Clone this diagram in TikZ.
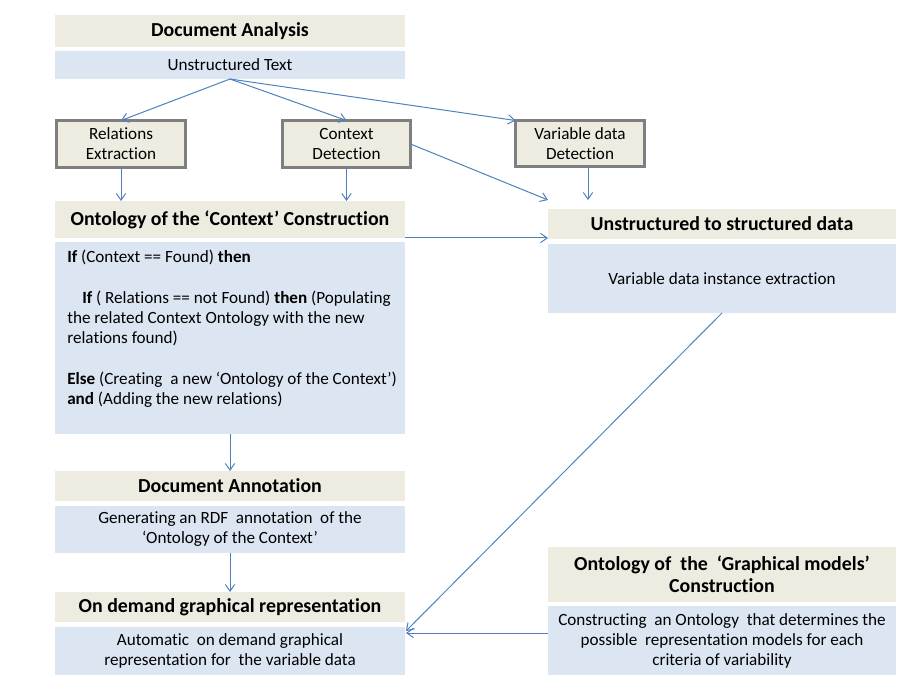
\documentclass[tikz,border=0pt]{standalone}
\usepackage{fontspec}
\setmainfont[Ligatures={TeX,NoCommon}]{Carlito}
\usetikzlibrary{arrows.meta}
\definecolor{hdrc}{HTML}{EEECE1}
\definecolor{bodc}{HTML}{DCE6F2}
\definecolor{arrc}{HTML}{4F81BD}
\definecolor{brdc}{HTML}{7F7F7F}
\tikzset{
  hdr/.style={fill=hdrc, anchor=north west, inner sep=0pt, outer sep=0pt, align=center,
    minimum width=262.5pt, font=\bfseries\fontsize{14.9}{16.5}\selectfont},
  bod/.style={fill=bodc, anchor=north west, inner sep=0pt, outer sep=0pt, align=center,
    minimum width=262.5pt, font=\fontsize{12.85}{15}\selectfont},
  wide/.style={minimum width=261pt},
  sbox/.style={fill=hdrc, draw=brdc, line width=2.25pt, anchor=north west, inner sep=0pt,
    outer sep=0pt, align=center, minimum height=35.25pt, font=\fontsize{12.85}{15}\selectfont},
  arr/.style={draw=arrc, line width=0.75pt, -{Straight Barb[length=5pt,width=7pt]}}
}
\begin{document}
\begin{tikzpicture}[x=0.75pt,y=-0.75pt]
\useasboundingbox (0,0) rectangle (915,684);
% left column
\node[hdr, minimum height=24pt] (dah) at (55,15) {Document Analysis};
\node[bod, minimum height=21pt] (dab) at (55,51) {Unstructured Text};
\node[sbox, minimum width=96.75pt] (rel) at (56.5,120.5) {Relations\\Extraction};
\node[sbox, minimum width=96pt] (ctx) at (282.5,120.5) {Context\\Detection};
\node[sbox, minimum width=96.75pt, minimum height=34.5pt] (var) at (515.5,120.5) {Variable data\\Detection};
\node[hdr, minimum height=27.75pt] (onth) at (55,201) {Ontology of the ‘Context’ Construction};
\node[bod, minimum height=144pt] (ontb) at (55,242) {};
\node[anchor=north west, inner sep=0pt, align=left, font=\fontsize{12.85}{15.2}\selectfont] (ontt) at (67,250)
 {\textbf{If} (Context == Found) \textbf{then}\\[15.2pt]
  \hspace*{11.25pt}\textbf{If} ( Relations == not Found) \textbf{then} (Populating\\
  the related Context Ontology with the new\\
  relations found)\\[15.2pt]
  \textbf{Else} (Creating\ \ a new ‘Ontology of the Context’)\\
  \textbf{and} (Adding the new relations)};
\node[hdr, minimum height=22.5pt] (anh) at (55,471) {Document Annotation};
\node[bod, minimum height=35.25pt] (anb) at (55,506) {Generating an RDF\ \ annotation\ \ of the\\‘Ontology of the Context’};
\node[hdr, minimum height=22.5pt] (odh) at (55,592) {On demand graphical representation};
\node[bod, minimum height=36pt] (odb) at (55,627) {Automatic\ \ on demand graphical\\representation for\ \ the variable data};
% right column
\node[hdr, wide, minimum height=22.5pt] (ush) at (548,209) {Unstructured to structured data};
\node[bod, wide, minimum height=51.75pt] (usb) at (548,244) {Variable data instance extraction};
\node[hdr, wide, minimum height=41.25pt] (gmh) at (548,547) {Ontology of\ \ the\ \ ‘Graphical models’\\Construction};
\node[bod, wide, minimum height=51.75pt] (gmb) at (548,606) {Constructing\ \ an Ontology\ \ that determines the\\possible\ \ representation models for each\\criteria of variability};
% free ends
\coordinate (vend) at (588,200);
\coordinate (cend) at (548,200);
\coordinate (oend) at (406,631);
\coordinate (gend) at (406,633);
% connectors
\draw[arr] (dab.south) -- (rel.north);
\draw[arr] (dab.south) -- (ctx.north);
\draw[arr] (dab.south) -- (var.north west);
\draw[arr] (rel.south) -- (rel.south |- onth.north);
\draw[arr] (ctx.south) -- (ctx.south |- onth.north);
\draw[arr] (var.south -| vend) -- (vend);
\draw[arr] (ctx.east) -- (cend);
\draw[arr] (onth.south east) -- (onth.south east -| ush.west);
\draw[arr] (ontb.south) -- (anh.north);
\draw[arr] (anb.south) -- (odh.north);
\draw[arr] (usb.south) -- (oend);
\draw[arr] (gmb.west |- gend) -- (gend);
\end{tikzpicture}
\end{document}
